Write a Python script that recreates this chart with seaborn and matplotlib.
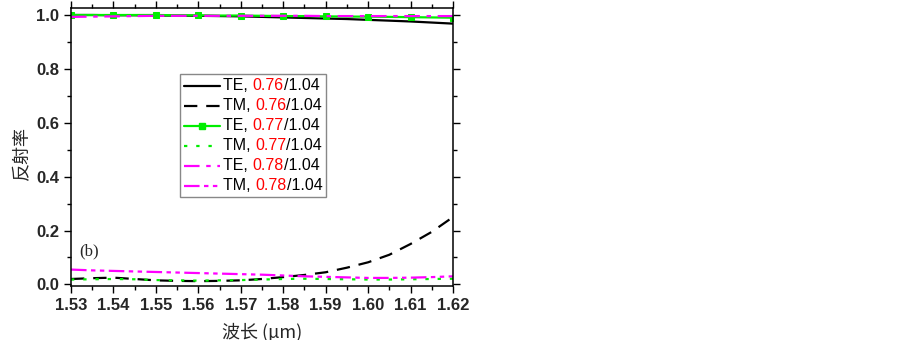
import numpy as np
import pandas as pd
import matplotlib
matplotlib.use("Agg")
import matplotlib.pyplot as plt
import seaborn as sns
from matplotlib.lines import Line2D
from matplotlib.ticker import MultipleLocator
from matplotlib.offsetbox import AnchoredOffsetbox, VPacker, HPacker, TextArea, DrawingArea

# wavelength samples (um)
wl = [1.53, 1.535, 1.54, 1.545, 1.55, 1.555, 1.56, 1.565, 1.57, 1.575,
      1.58, 1.585, 1.59, 1.595, 1.60, 1.605, 1.61, 1.615, 1.62]

# reflectance curves
te_076 = [1.000, 1.000, 0.999, 0.999, 0.998, 0.998, 0.997, 0.996, 0.995, 0.993,
          0.991, 0.989, 0.987, 0.985, 0.982, 0.979, 0.976, 0.972, 0.968]
tm_076 = [0.020, 0.023, 0.025, 0.020, 0.015, 0.013, 0.012, 0.013, 0.015, 0.020,
          0.027, 0.035, 0.045, 0.062, 0.082, 0.110, 0.150, 0.195, 0.250]
te_077 = [1.000, 1.000, 1.000, 1.000, 1.000, 0.999, 0.999, 0.998, 0.998, 0.997,
          0.996, 0.996, 0.995, 0.994, 0.994, 0.993, 0.992, 0.991, 0.990]
tm_077 = [0.018, 0.019, 0.020, 0.019, 0.016, 0.015, 0.014, 0.015, 0.016, 0.018,
          0.020, 0.021, 0.020, 0.019, 0.018, 0.018, 0.019, 0.020, 0.021]
te_078 = [0.993, 0.994, 0.995, 0.996, 0.997, 0.997, 0.997, 0.997, 0.997, 0.997,
          0.997, 0.997, 0.996, 0.996, 0.996, 0.996, 0.996, 0.996, 0.996]
tm_078 = [0.055, 0.052, 0.050, 0.048, 0.046, 0.044, 0.042, 0.040, 0.038, 0.036,
          0.033, 0.030, 0.028, 0.026, 0.024, 0.024, 0.025, 0.027, 0.030]

series = [
    ("TE, ", "0.76", te_076, "black", "-", None),
    ("TM, ", "0.76", tm_076, "black", (0, (6, 4)), None),
    ("TE, ", "0.77", te_077, "#00ee00", "-", "s"),
    ("TM, ", "0.77", tm_077, "#00ee00", (0, (1.5, 4)), None),
    ("TE, ", "0.78", te_078, "magenta", (0, (7, 3, 2, 3)), None),
    ("TM, ", "0.78", tm_078, "magenta", (0, (7, 2, 2, 2, 2, 2)), None),
]

sns.set_style("ticks")
plt.rcParams['font.family'] = ['Liberation Sans', 'DejaVu Sans']

fig = plt.figure(figsize=(9.03, 3.40), dpi=100)
ax = fig.add_axes([71 / 903, 54 / 340, 382 / 903, 278 / 340])

for pol, ratio, vals, col, ls, mk in series:
    df = pd.DataFrame({"wl": wl, "R": vals})
    if mk:
        sns.lineplot(data=df, x="wl", y="R", ax=ax, color=col, linestyle=ls,
                     linewidth=1.6, marker=mk, markersize=4, markevery=2,
                     markeredgecolor=col)
    else:
        sns.lineplot(data=df, x="wl", y="R", ax=ax, color=col, linestyle=ls,
                     linewidth=1.6)

ax.set_xlim(1.53, 1.62)
ax.set_ylim(-0.006, 1.026)
ax.xaxis.set_major_locator(MultipleLocator(0.01))
ax.xaxis.set_minor_locator(MultipleLocator(0.005))
ax.yaxis.set_major_locator(MultipleLocator(0.2))
ax.yaxis.set_minor_locator(MultipleLocator(0.1))
ax.xaxis.set_major_formatter(matplotlib.ticker.FormatStrFormatter("%.2f"))
ax.yaxis.set_major_formatter(matplotlib.ticker.FormatStrFormatter("%.1f"))
ax.tick_params(which="both", direction="out", top=True, right=True,
               labeltop=False, labelright=False, color="black", width=1)
ax.tick_params(which="major", length=5, labelsize=12)
ax.tick_params(which="minor", length=3)
for lbl in ax.get_xticklabels() + ax.get_yticklabels():
    lbl.set_fontweight("bold")
for sp in ax.spines.values():
    sp.set_visible(True)
    sp.set_linewidth(1.1)
    sp.set_color("black")

ax.set_xlabel("波长 (μm)", fontsize=13, family=['Noto Sans CJK SC', 'DejaVu Sans'],
              fontweight="light", labelpad=7)
ax.set_ylabel("反射率", fontsize=13, family=['Noto Sans CJK SC', 'DejaVu Sans'],
              fontweight="light")
ax.yaxis.set_label_coords(-0.105, 0.48)

ax.text(0.022, 0.11, "(b)", transform=ax.transAxes, fontsize=12,
        family="Liberation Serif")

# legend with two-colour labels
rows = []
for pol, ratio, vals, col, ls, mk in series:
    da = DrawingArea(26, 9, 0, 0)
    ln = Line2D([0, 13, 26], [4.5, 4.5, 4.5], color=col, linestyle=ls, linewidth=1.6,
                marker=mk if mk else None, markersize=4, markevery=[1])
    da.add_artist(ln)
    txt = HPacker(children=[
        TextArea(pol, textprops=dict(color="black", size=11.5)),
        TextArea(ratio, textprops=dict(color="red", size=11.5)),
        TextArea("/1.04", textprops=dict(color="black", size=11.5)),
    ], sep=0, pad=0, align="baseline")
    rows.append(HPacker(children=[da, txt], sep=2.5, pad=0, align="center"))
box = VPacker(children=rows, sep=3.6, pad=0, align="left")
anch = AnchoredOffsetbox(loc="upper left", child=box, pad=0.28, borderpad=0,
                         frameon=True, bbox_to_anchor=(0.285, 0.762),
                         bbox_transform=ax.transAxes)
anch.patch.set_edgecolor("#888888")
anch.patch.set_linewidth(1)
ax.add_artist(anch)

fig.savefig("out.png", dpi=100)
